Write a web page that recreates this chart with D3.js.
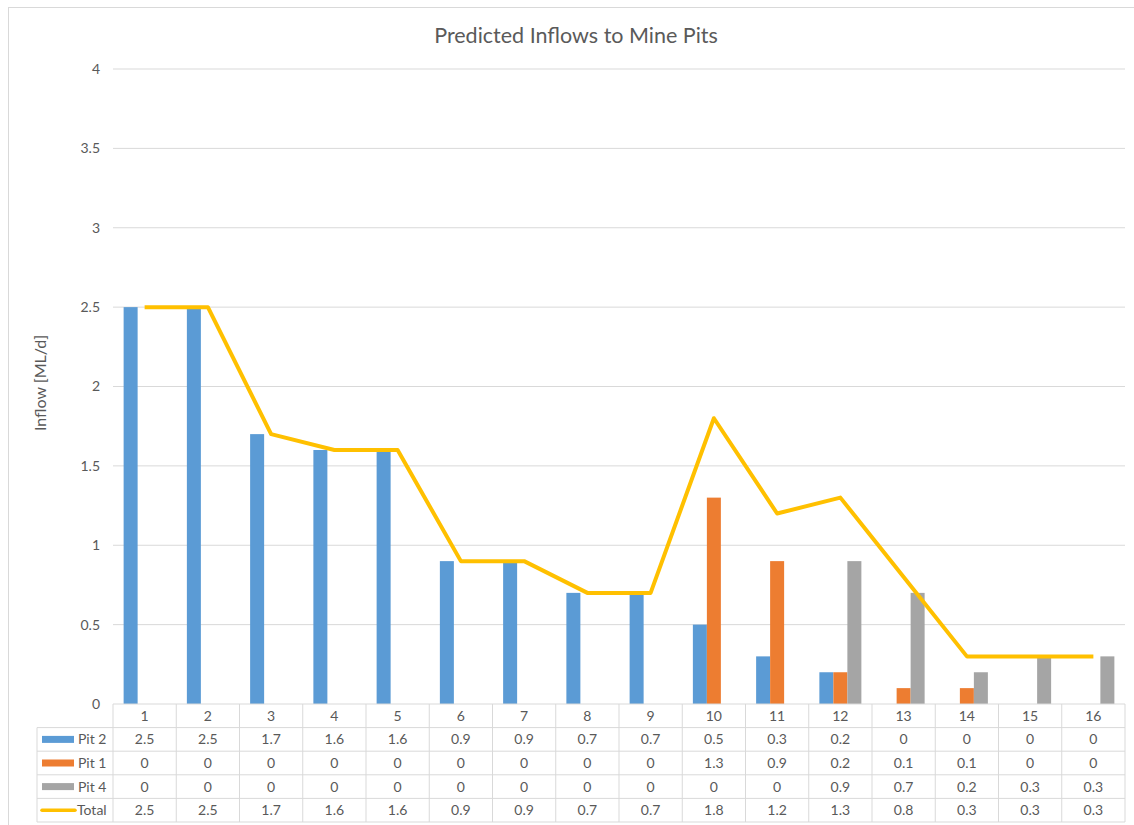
<!DOCTYPE html>
<html>
<head>
<meta charset="utf-8">
<script src="https://cdn.jsdelivr.net/npm/d3@7"></script>
<style>
    body { margin: 0; background: #fff; }
    text { font-family: Lato, "Open Sans", sans-serif; fill: #595959; }
</style>
</head>
<body>
<div id="chart"></div>
<script>
// categories and series
var categories = ["1", "2", "3", "4", "5", "6", "7", "8", "9", "10", "11", "12", "13", "14", "15", "16"];
var pit2 = [2.5, 2.5, 1.7, 1.6, 1.6, 0.9, 0.9, 0.7, 0.7, 0.5, 0.3, 0.2, 0, 0, 0, 0];
var pit1 = [0, 0, 0, 0, 0, 0, 0, 0, 0, 1.3, 0.9, 0.2, 0.1, 0.1, 0, 0];
var pit4 = [0, 0, 0, 0, 0, 0, 0, 0, 0, 0, 0, 0.9, 0.7, 0.2, 0.3, 0.3];
var total = [2.5, 2.5, 1.7, 1.6, 1.6, 0.9, 0.9, 0.7, 0.7, 1.8, 1.2, 1.3, 0.8, 0.3, 0.3, 0.3];
var yTicks = [0, 0.5, 1, 1.5, 2, 2.5, 3, 3.5, 4];

var barSeries = [
    { name: "Pit 2", values: pit2, color: "#5B9BD5" },
    { name: "Pit 1", values: pit1, color: "#ED7D31" },
    { name: "Pit 4", values: pit4, color: "#A5A5A5" }
];
var lineSeries = { name: "Total", values: total, color: "#FFC000" };

var W = 1134, H = 825;
var plotLeft = 113, plotRight = 1125, plotTop = 69, plotBottom = 704;
var rowH = 23.6, legendLeft = 37;

var svg = d3.select("#chart").append("svg")
    .attr("width", W)
    .attr("height", H);

// chart area border
svg.append("rect")
    .attr("x", 8.5).attr("y", 7.5)
    .attr("width", W + 10).attr("height", H + 10)
    .attr("fill", "#fff")
    .attr("stroke", "#D9D9D9");

var x = d3.scaleBand().domain(categories).range([plotLeft, plotRight]).padding(0);
var bw = x.bandwidth();
var x1 = d3.scaleBand().domain(barSeries.map(function (s) { return s.name; }))
    .range([bw * 0.168, bw * 0.832]).padding(0);
var y = d3.scaleLinear().domain([0, 4]).range([plotBottom, plotTop]);

// gridlines
svg.append("g").selectAll("line")
    .data(yTicks.filter(function (t) { return t > 0; }))
    .enter().append("line")
    .attr("x1", plotLeft).attr("x2", plotRight)
    .attr("y1", function (d) { return y(d); })
    .attr("y2", function (d) { return y(d); })
    .attr("stroke", "#D9D9D9")
    .attr("stroke-width", 1);

// y axis labels
svg.append("g").selectAll("text")
    .data(yTicks)
    .enter().append("text")
    .attr("x", 100)
    .attr("y", function (d) { return y(d); })
    .attr("dy", "0.35em")
    .attr("text-anchor", "end")
    .style("font-size", "14px")
    .text(function (d) { return d; });

// bars
barSeries.forEach(function (s) {
    svg.append("g").selectAll("rect")
        .data(s.values.map(function (v, i) { return { c: categories[i], v: v }; })
            .filter(function (d) { return d.v > 0; }))
        .enter().append("rect")
        .attr("x", function (d) { return x(d.c) + x1(s.name); })
        .attr("y", function (d) { return y(d.v); })
        .attr("width", x1.bandwidth())
        .attr("height", function (d) { return y(0) - y(d.v); })
        .attr("fill", s.color);
});

// total line
var line = d3.line()
    .x(function (d, i) { return x(categories[i]) + bw / 2; })
    .y(function (d) { return y(d); });
svg.append("path")
    .datum(lineSeries.values)
    .attr("d", line)
    .attr("fill", "none")
    .attr("stroke", lineSeries.color)
    .attr("stroke-width", 4)
    .attr("stroke-linejoin", "round");

// title
svg.append("text")
    .attr("x", 576).attr("y", 43)
    .attr("text-anchor", "middle")
    .style("font-size", "21.5px")
    .style("fill", "#5a5a5a")
    .text("Predicted Inflows to Mine Pits");

// y axis title
svg.append("text")
    .attr("transform", "translate(46,383) rotate(-90)")
    .attr("text-anchor", "middle")
    .style("font-size", "16px")
    .text("Inflow [ML/d]");

// data table
var table = svg.append("g");
var rows = barSeries.concat([lineSeries]);
var tableBottom = plotBottom + rowH * (rows.length + 1);

// horizontal lines
table.append("line")
    .attr("x1", plotLeft).attr("x2", plotRight)
    .attr("y1", plotBottom).attr("y2", plotBottom)
    .attr("stroke", "#D9D9D9");
for (var r = 1; r <= rows.length + 1; r++) {
    table.append("line")
        .attr("x1", legendLeft).attr("x2", plotRight)
        .attr("y1", plotBottom + rowH * r).attr("y2", plotBottom + rowH * r)
        .attr("stroke", "#D9D9D9");
}
// vertical lines
table.append("line")
    .attr("x1", legendLeft).attr("x2", legendLeft)
    .attr("y1", plotBottom + rowH).attr("y2", tableBottom)
    .attr("stroke", "#D9D9D9");
table.selectAll(".vline")
    .data(categories.concat(["end"]))
    .enter().append("line")
    .attr("class", "vline")
    .attr("x1", function (d, i) { return plotLeft + i * bw; })
    .attr("x2", function (d, i) { return plotLeft + i * bw; })
    .attr("y1", plotBottom).attr("y2", tableBottom)
    .attr("stroke", "#D9D9D9");

// header row
table.selectAll(".cat")
    .data(categories)
    .enter().append("text")
    .attr("class", "cat")
    .attr("x", function (d) { return x(d) + bw / 2; })
    .attr("y", plotBottom + rowH / 2)
    .attr("dy", "0.35em")
    .attr("text-anchor", "middle")
    .style("font-size", "14px")
    .text(function (d) { return d; });

rows.forEach(function (s, r) {
    var cy = plotBottom + rowH * (r + 1) + rowH / 2;
    if (s === lineSeries) {
        table.append("line")
            .attr("x1", 42).attr("x2", 75)
            .attr("y1", cy).attr("y2", cy)
            .attr("stroke", s.color)
            .attr("stroke-width", 3.5)
            .attr("stroke-linecap", "round");
    } else {
        table.append("rect")
            .attr("x", 42).attr("y", cy - 3.5)
            .attr("width", 32).attr("height", 7)
            .attr("fill", s.color);
    }
    table.append("text")
        .attr("x", s === lineSeries ? 77 : 78)
        .attr("y", cy)
        .attr("dy", "0.35em")
        .style("font-size", "14px")
        .text(s.name);
    table.selectAll(".v" + r)
        .data(s.values)
        .enter().append("text")
        .attr("x", function (d, i) { return x(categories[i]) + bw / 2; })
        .attr("y", cy)
        .attr("dy", "0.35em")
        .attr("text-anchor", "middle")
        .style("font-size", "14px")
        .text(function (d) { return d; });
});
</script>
</body>
</html>
